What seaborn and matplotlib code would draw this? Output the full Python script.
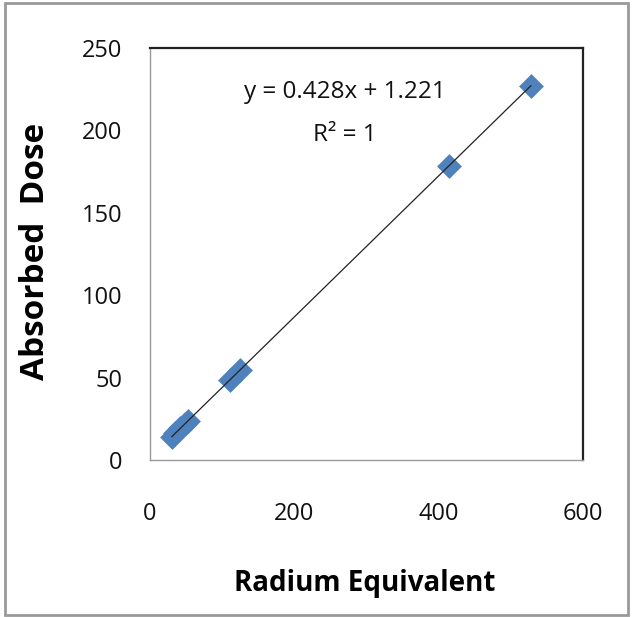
import numpy as np
import pandas as pd
import matplotlib
matplotlib.use("Agg")
import matplotlib.pyplot as plt
import seaborn as sns
from matplotlib.patches import Rectangle

radium_eq = [30, 35, 42, 48, 53, 111, 125, 414, 528]
absorbed_dose = [14.1, 16.2, 19.2, 21.8, 23.9, 48.7, 54.7, 178.4, 227.2]
slope = 0.428
intercept = 1.221
x_ticks = [0, 200, 400, 600]
y_ticks = [0, 50, 100, 150, 200, 250]

df = pd.DataFrame({"Radium Equivalent": radium_eq, "Absorbed Dose": absorbed_dose})

sns.set_style("white")
plt.rcParams['font.family'] = ['Open Sans', 'DejaVu Sans']
plt.rcParams['text.color'] = '#111111'
plt.rcParams['axes.labelcolor'] = '#000000'
plt.rcParams['xtick.labelcolor'] = '#111111'
plt.rcParams['ytick.labelcolor'] = '#111111'

fig = plt.figure(figsize=(6.32, 6.17), dpi=100)
ax = fig.add_axes([150/632, 1-460/617, 433/632, 412/617])

xs = np.array([min(radium_eq), max(radium_eq)])
sns.scatterplot(data=df, x="Radium Equivalent", y="Absorbed Dose", marker='D', s=160,
                color='#4F81BD', edgecolor='#4F81BD', linewidth=0, ax=ax, zorder=2)
ax.plot(xs, slope*xs + intercept, color='#222222', lw=0.9, zorder=4)

ax.set_xlim(0, 600)
ax.set_ylim(0, 250)
ax.set_xticks(x_ticks)
ax.set_yticks(y_ticks)
ax.tick_params(axis='both', which='major', direction='out', length=6, width=1, color='#888888',
               labelsize=17)
ax.tick_params(axis='x', pad=24)
ax.tick_params(axis='y', pad=14)
for s in ['left', 'bottom']:
    ax.spines[s].set_color('#999999')
    ax.spines[s].set_linewidth(1)
for s in ['top', 'right']:
    ax.spines[s].set_color('#222222')
    ax.spines[s].set_linewidth(1.6)

ax.set_xlabel("Radium Equivalent", fontsize=20, fontweight='bold', va='center')
ax.set_ylabel("Absorbed  Dose", fontsize=24, fontweight='bold', va='center')
ax.xaxis.set_label_coords((365-150)/433, (460-583)/412)
ax.yaxis.set_label_coords((35-150)/433, (460-251)/412)

ax.text(270, 250 - (92-48)/412*250, "y = 0.428x + 1.221",
        ha='center', va='center', fontsize=17.5)
ax.text(270, 250 - (135-48)/412*250, "R² = 1", ha='center', va='center', fontsize=17.5)

fig.patches.append(Rectangle((5/632, 2/617), 623/632, 612/617, transform=fig.transFigure,
                             fill=False, edgecolor='#999999', lw=2))

fig.savefig("out.png", dpi=100)
